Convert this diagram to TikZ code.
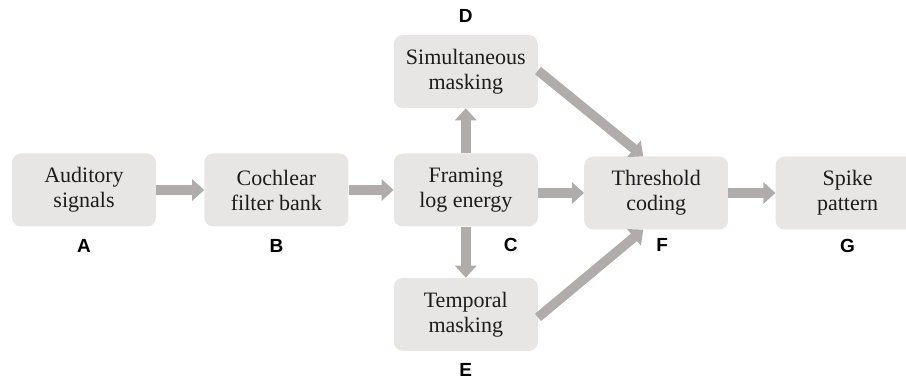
\documentclass[tikz,border=0pt]{standalone}
\usepackage{fontspec}
\setmainfont{Liberation Serif}
\newfontfamily\tagfont{Liberation Sans}
\usepackage{xcolor}
\definecolor{boxgray}{RGB}{231, 230, 229}
\definecolor{arrowgray}{RGB}{176, 172, 171}
\definecolor{textgray}{RGB}{30, 27, 28}
\usepackage{tikz}
\usetikzlibrary{arrows.meta, positioning}

\begin{document}
\begin{tikzpicture}[
    node distance=45pt and 47pt,
    every node/.style={align=center},
    block/.style={rectangle, rounded corners=9pt, fill=boxgray, text=textgray, minimum width=144pt, minimum height=73pt, font=\fontsize{22}{25}\selectfont},
    tag/.style={font=\tagfont\bfseries\fontsize{19}{21}\selectfont, inner sep=0pt},
    arrow/.style={-{Triangle[width=21pt, length=12pt]}, line width=9.5pt, arrowgray}
]
\useasboundingbox (0,0) rectangle (906pt,383pt);

% Nodes
\node[block] (audio) at (84pt,193pt) {Auditory\\signals};
\node[block, right=48pt of audio] (filter) {Cochlear\\filter bank};
\node[block, right=45pt of filter] (framing) {Framing\\log energy};
\node[block, above=of framing] (simmask) {Simultaneous\\masking};
\node[block, below=51pt of framing] (tempmask) {Temporal\\masking};
\node[block, right=46pt of framing, yshift=-3pt] (coding) {Threshold\\coding};
\node[block, right=of coding] (spike) {Spike\\pattern};

% Letters
\node[tag] (tagA) at ([yshift=-19pt]audio.south) {A};
\node[tag] (tagB) at ([yshift=-19pt]filter.south) {B};
\node[tag] (tagC) at ([xshift=45pt, yshift=-18pt]framing.south) {C};
\node[tag] (tagD) at ([yshift=19pt]simmask.north) {D};
\node[tag] (tagE) at ([yshift=-19pt]tempmask.south) {E};
\node[tag] (tagF) at ([xshift=6pt, yshift=-15pt]coding.south) {F};
\node[tag] (tagG) at ([yshift=-16pt]spike.south) {G};

% Connections
\draw[arrow] (audio) -- (filter);
\draw[arrow] (filter) -- (framing);
\draw[arrow] (framing) -- (simmask);
\draw[arrow] (framing) -- (tempmask);
\draw[arrow] ([yshift=-3pt]framing.east) -- (coding);
\draw[arrow] ([yshift=1pt]simmask.east) -- ([xshift=-13pt]coding.north);
\draw[arrow] ([yshift=-3pt]tempmask.east) -- ([xshift=-13pt]coding.south);
\draw[arrow] (coding) -- (spike);

\end{tikzpicture}
\end{document}
